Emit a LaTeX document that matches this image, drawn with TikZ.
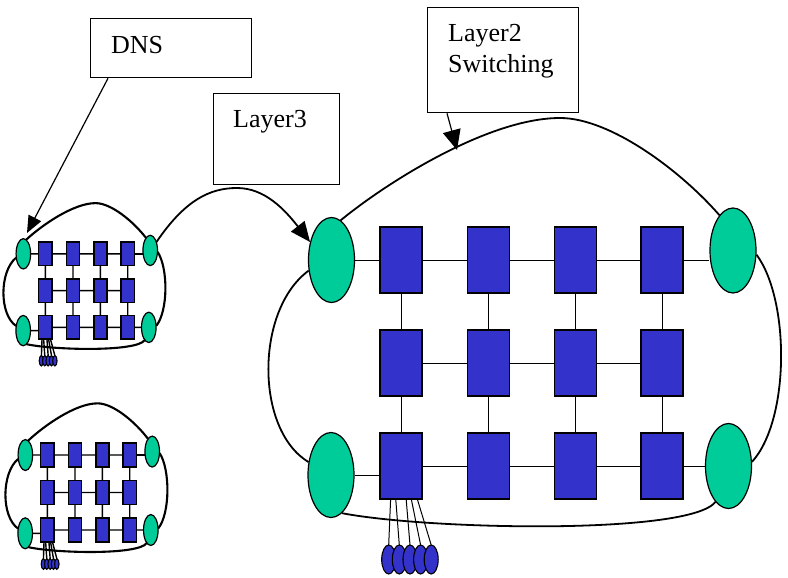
\documentclass[tikz,border=0pt]{standalone}
\usepackage{fontspec}
\setmainfont{Liberation Serif}
\usetikzlibrary{arrows.meta,shapes.geometric,calc}
\definecolor{netgreen}{RGB}{0,204,153}
\definecolor{netblue}{RGB}{51,51,204}
\tikzset{
  gell/.style={ellipse, draw, fill=netgreen, line width=1.2pt, minimum width=46pt, minimum height=85pt, inner sep=0pt},
  netrect/.style={rectangle, draw, fill=netblue, line width=1.4pt, minimum width=42pt, minimum height=66pt, inner sep=0pt},
  bell/.style={ellipse, draw, fill=netblue, line width=1.1pt, minimum width=14pt, minimum height=29pt, inner sep=0pt},
  link/.style={line width=1pt},
  loopline/.style={line width=1.8pt},
  labelbox/.style={draw, line width=1.3pt, anchor=north west, inner sep=0pt},
  labeltext/.style={anchor=base west, inner sep=0pt, font=\fontsize{26}{31}\selectfont},
  pointer/.style={line width=1.2pt, -{Triangle[length=17pt,width=14pt]}},
  bigpointer/.style={line width=1.8pt, -{Triangle[length=20pt,width=17pt]}},
}
\newcommand\lannet{%
  \foreach \c/\x in {1/401,2/488.5,3/575.5,4/662}{
    \foreach \r/\y in {1/260,2/363,3/466}{
      \node[netrect] (r\r\c) at (\x,\y) {};
    }
  }
  \node[gell] (e1) at (331.5,260) {};
  \node[gell] (e2) at (733,250.5) {};
  \node[gell] (e3) at (331,475) {};
  \node[gell] (e4) at (728.5,466) {};
  \draw[link] (e1) -- (r11) -- (r12) -- (r13) -- (r14);
  \draw[link] (r14.east) -- (r14.east -| e2.west);
  \draw[link] (r21) -- (r22) -- (r23) -- (r24);
  \draw[link] (e3) -- (e3 -| r31.west);
  \draw[link] (r31) -- (r32) -- (r33) -- (r34) -- (e4);
  \foreach \c in {1,2,3,4}{
    \draw[link] (r1\c) -- (r2\c) -- (r3\c);
  }
  \foreach \i/\x/\f in {1/388.7/0.26,2/399.3/0.38,3/410/0.62,4/420.6/0.74,5/431.2/0.88}{
    \draw[link] ($(r31.south west)!\f!(r31.south east)$) -- (\x,545);
  }
  \foreach \i/\x in {1/388.7,2/399.3,3/410,4/420.6,5/431.2}{
    \node[bell] (b\i) at (\x,559.5) {};
  }
  \draw[loopline] (e1.77) .. controls (390,180) and (490,118) .. (560,118)
                  .. controls (610,118) and (680,170) .. (e2.111);
  \draw[loopline] (e2.-10) .. controls (790,300) and (790,420) .. (e4.10);
  \draw[loopline] (e4.250) .. controls (690,535) and (430,530) .. (e3.286);
  \draw[loopline] (e1.205) .. controls (255,310) and (255,430) .. (e3.150);
}
\begin{document}
\begin{tikzpicture}[x=1pt,y=-1pt]
  \useasboundingbox[fill=white] (0,0) rectangle (788,578);

  \begin{scope}[name prefix=b-]
    \lannet
  \end{scope}
  \begin{scope}[shift={(-81.4,161)}, xscale=0.316, yscale=0.357, transform shape,
                name prefix=s1-, link/.append style={line width=1.4pt},
                netrect/.append style={line width=1.6pt},
                loopline/.append style={line width=2.1pt}]
    \lannet
  \end{scope}
  \begin{scope}[shift={(-79.4,360.4)}, xscale=0.316, yscale=0.364, transform shape,
                name prefix=s2-, link/.append style={line width=1.4pt},
                netrect/.append style={line width=1.6pt},
                loopline/.append style={line width=2.1pt}]
    \lannet
  \end{scope}

  \node[labelbox, minimum width=161pt, minimum height=59pt] (dns) at (90,18) {};
  \node[labeltext] (dnst) at (111,54) {DNS};
  \node[labelbox, minimum width=126pt, minimum height=91pt] (l3) at (213,93) {};
  \node[labeltext] (l3t) at (233,128) {Layer3};
  \node[labelbox, minimum width=151pt, minimum height=105pt] (l2) at (427,7) {};
  \node[labeltext] (l2ta) at (448,42) {Layer2};
  \node[labeltext] (l2tb) at (448,73) {Switching};

  \coordinate (dnstip) at (27,233);
  \coordinate (l2tip) at (457,150);
  \draw[pointer] ([xshift=18pt]dns.south west) -- (dnstip);
  \draw[pointer, -{Triangle[length=20pt,width=18pt]}] ([xshift=20pt]l2.south west) -- (l2tip);
  \draw[bigpointer] (s1-e2.50) .. controls (185,200) and (210,188) .. (237,188)
                    .. controls (265,188) and (285,210) .. (b-e1.140);
\end{tikzpicture}
\end{document}
